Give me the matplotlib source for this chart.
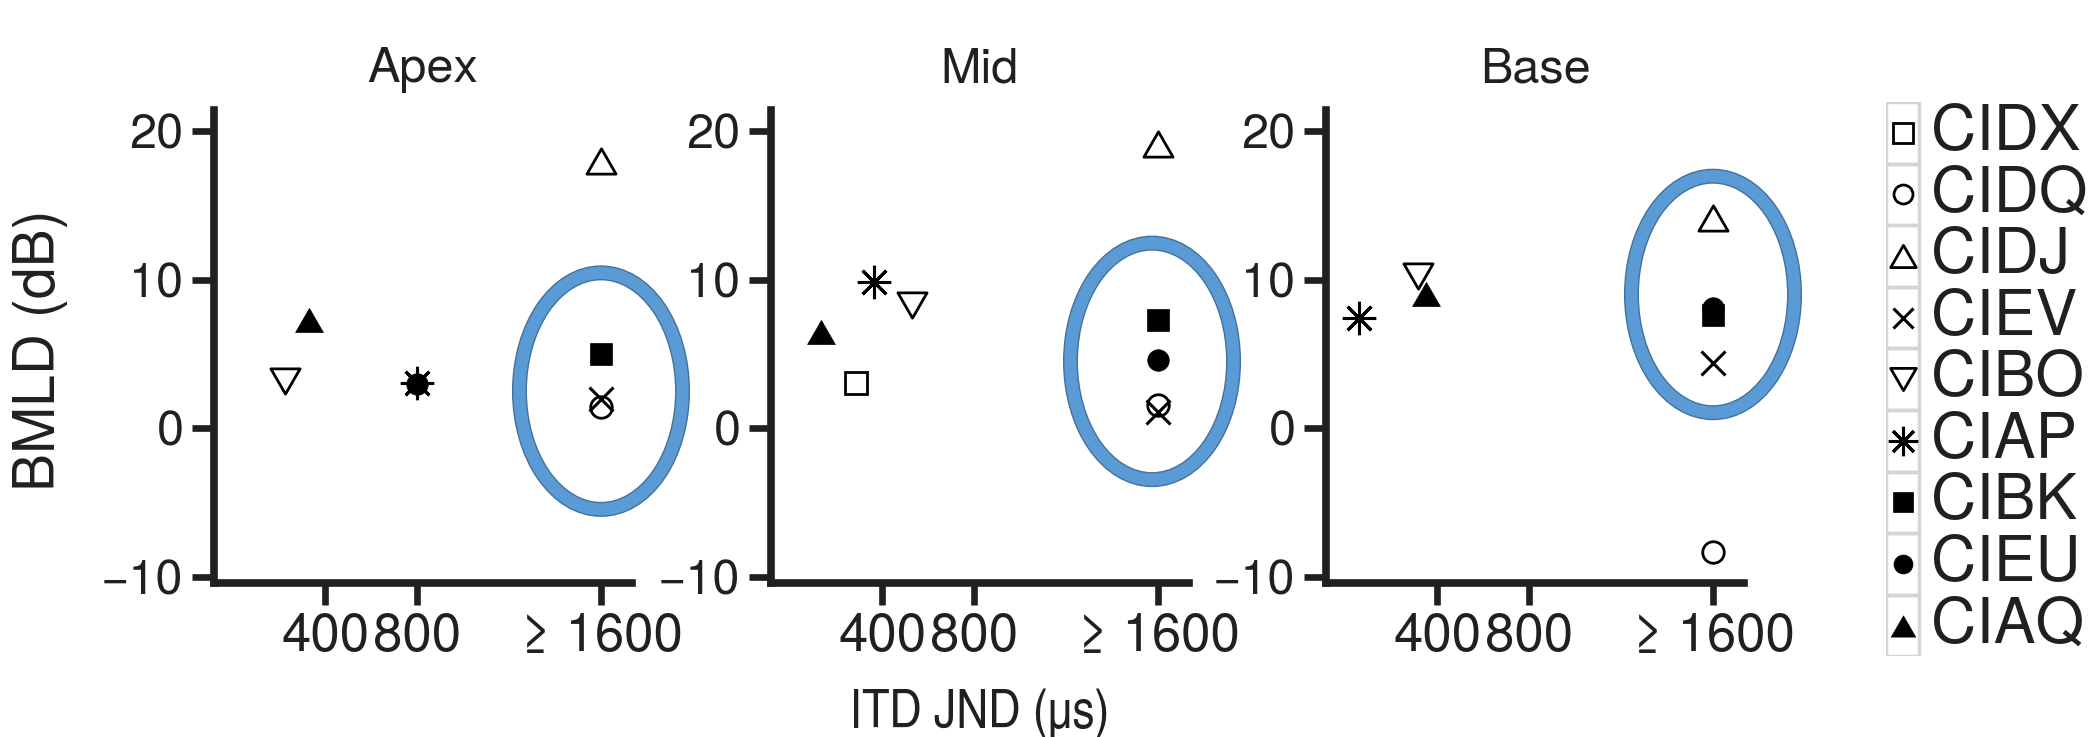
import numpy as np
import matplotlib
matplotlib.use("Agg")
import matplotlib.pyplot as plt
from matplotlib.patches import Ellipse, Rectangle
from matplotlib.path import Path

# Helvetica-like faces, with fallbacks
reg = ['TeX Gyre Heros', 'Liberation Sans', 'DejaVu Sans']
cond = ['TeX Gyre Heros Cn', 'Liberation Sans Narrow', 'Liberation Sans', 'DejaVu Sans']
plt.rcParams['font.family'] = reg

# subjects (legend order)
subjects = ["CIDX", "CIDQ", "CIDJ", "CIEV", "CIBO", "CIAP", "CIBK", "CIEU", "CIAQ"]

# ITD JND (us) and BMLD (dB) per electrode region, nan = no point
apex_itd = [np.nan, 1600, 1600, 1600, 224, 800, 1600, 800, 327]
apex_bmld = [np.nan, 1.45, 18.0, 2.0, 3.2, 3.07, 5.0, 3.0, 7.3]

mid_itd = [283, 1600, 1600, 1600, 530, 364, 1600, 1600, 133]
mid_bmld = [3.07, 1.57, 19.1, 1.1, 8.26, 9.86, 7.28, 4.6, 6.5]

base_itd = [np.nan, 1600, 1600, 1600, 315, 60, 1600, 1600, 349]
base_bmld = [np.nan, -8.34, 14.16, 4.37, 10.26, 7.4, 7.6, 8.1, 9.03]

panel_titles = ["Apex", "Mid", "Base"]
xtick_vals = [400, 800, 1600]
xtick_labels = ["400", "800", "\u2265 1600"]
ytick_vals = [-10, 0, 10, 20]

# highlighted clusters: (x centre, y centre)
ring_centres = [(1600, 2.5), (1574, 4.5), (1600, 9.0)]

# equilateral triangles
tri_up = Path([(-0.5, -0.433), (0.5, -0.433), (0, 0.433), (-0.5, -0.433)],
              [Path.MOVETO, Path.LINETO, Path.LINETO, Path.CLOSEPOLY])
tri_dn = Path([(-0.5, 0.433), (0.5, 0.433), (0, -0.433), (-0.5, 0.433)],
              [Path.MOVETO, Path.LINETO, Path.LINETO, Path.CLOSEPOLY])

styles = {
    "CIDX": dict(marker="s", ms=16, mfc="none", mec="k", mew=2.0),
    "CIDQ": dict(marker="o", ms=15.5, mfc="none", mec="k", mew=2.0),
    "CIDJ": dict(marker=tri_up, ms=21, mfc="none", mec="k", mew=2.0),
    "CIEV": dict(marker="x", ms=17, mec="k", mew=2.2),
    "CIBO": dict(marker=tri_dn, ms=21, mfc="none", mec="k", mew=2.0),
    "CIAP": dict(marker=(8, 2, 0), ms=24, mec="k", mew=2.2),
    "CIBK": dict(marker="s", ms=16.5, mfc="k", mec="k", mew=0.5),
    "CIEU": dict(marker="o", ms=15.5, mfc="k", mec="k", mew=0.5),
    "CIAQ": dict(marker=tri_up, ms=20, mfc="k", mec="k", mew=0.5),
}

ink = "#231f20"
W, H = 2089, 737
fig = plt.figure(figsize=(W / 100, H / 100), dpi=100)

lefts = [214, 771, 1326]
ax_w = 418
ax_top, ax_bot = 110, 583.3

panels = [(apex_itd, apex_bmld), (mid_itd, mid_bmld), (base_itd, base_bmld)]

for k, (itd, bmld) in enumerate(panels):
    ax = fig.add_axes([lefts[k] / W, (H - ax_bot) / H, ax_w / W, (ax_bot - ax_top) / H])
    ax.set_xlim(-85, 1735)
    ax.set_ylim(-10.42, 21.4)
    for s in ["top", "right"]:
        ax.spines[s].set_visible(False)
    for s in ["left", "bottom"]:
        ax.spines[s].set_linewidth(5.5)
        ax.spines[s].set_color(ink)
        ax.spines[s].set_capstyle("projecting")
    ax.set_xticks(xtick_vals)
    ax.set_xticklabels(xtick_labels, fontsize=38, color=ink)
    ax.set_yticks(ytick_vals)
    ax.set_yticklabels([str(v).replace("-", "\u2212") for v in ytick_vals],
                       fontsize=35, color=ink)
    ax.tick_params(axis="both", length=16, width=4.8, color=ink)
    ax.tick_params(axis="x", pad=5)
    ax.tick_params(axis="y", pad=6)
    ax.set_title(panel_titles[k], fontsize=35, pad=20, color=ink)

    cx, cy = ring_centres[k]
    ax.add_patch(Ellipse((cx, cy), 710, 15.9, fill=False, lw=10.8,
                         edgecolor="#41719c", zorder=1, clip_on=False))
    ax.add_patch(Ellipse((cx, cy), 710, 15.9, fill=False, lw=8.8,
                         edgecolor="#5b9bd5", zorder=1.1, clip_on=False))

    for i, name in enumerate(subjects):
        if np.isnan(itd[i]):
            continue
        ax.plot([itd[i]], [bmld[i]], ls="none", zorder=3, clip_on=False, **styles[name])

fig.text(40 / W, 1 - 350 / H, "BMLD (dB)", rotation=90, ha="center", va="center",
         fontsize=41, color=ink)
fig.text(980 / W, 1 - 714 / H, "ITD JND (\u00b5s)", ha="center", va="center",
         fontsize=39, color=ink, family=cond)

# legend with boxed marker cells
leg_left, leg_top, row_h, cell_w = 1886, 102, 61.6, 33
leg = fig.add_axes([leg_left / W, (H - leg_top - 9 * row_h) / H,
                    (W - leg_left) / W, 9 * row_h / H])
leg.set_xlim(0, W - leg_left)
leg.set_ylim(9 * row_h, 0)
leg.axis("off")
for i, name in enumerate(subjects):
    leg.add_patch(Rectangle((0, i * row_h), cell_w, row_h, fill=False,
                            edgecolor="#d4d5d6", lw=2.5))
    st = dict(styles[name])
    st["ms"] = st["ms"] * 0.88
    leg.plot([cell_w / 2], [i * row_h + row_h / 2], ls="none", **st)
    leg.text(45, i * row_h + row_h / 2 + 1, name, fontsize=45, va="center",
             ha="left", color=ink)

fig.savefig("out.png", dpi=100)
